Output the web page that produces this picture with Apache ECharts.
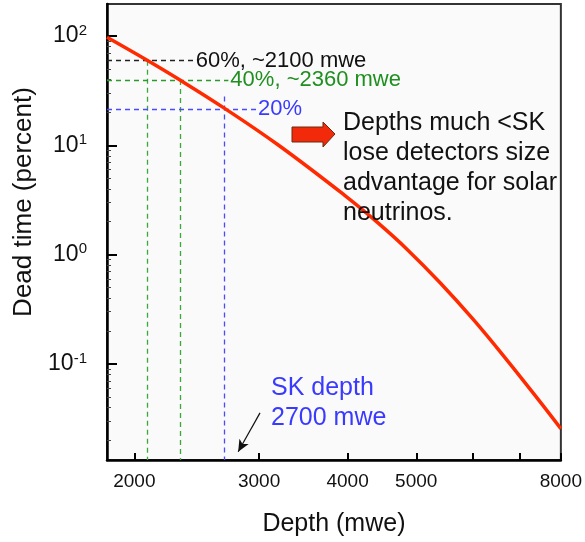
<!DOCTYPE html>
<html>
<head>
<meta charset="utf-8">
<script src="https://cdn.jsdelivr.net/npm/echarts@6/dist/echarts.min.js"></script>
<style>
html,body{margin:0;padding:0;background:#ffffff;}
#c{width:585px;height:542px;}
</style>
</head>
<body>
<div id="c"></div>
<script>
// ---- data ----
const depth   = [1830, 2085, 2320, 2679, 3193, 3958, 4407, 4855, 5403, 6017, 6701, 7460, 8000];
const deadPct = [97.3, 59.9, 39.5, 21.86, 10.05, 3.50, 1.969, 1.115, 0.553, 0.2552, 0.110, 0.0458, 0.0255];
const xTickLabels = [2000, 3000, 4000, 5000, 8000];
const xTicks      = [2000, 3000, 4000, 5000, 6000, 7000, 8000];
const yTickLabels = [0.1, 1, 10, 100];
const xRange = [1830, 8000];
const yRange = [0.0132, 196];
// reference lines: level %, crossing depth, end of horizontal dash, label
const refLevels  = [59.4, 39.6, 21.5];
const refDepths  = [2085, 2320, 2679];
const refLabels  = ['60%, ~2100 mwe', '40%, ~2360 mwe', '20%'];
const refHEnds   = [2426, 2715, 2971];
const refVTops   = [59.4, 39.6, 27.9];
const skArrow    = [[3009, 0.0356], [2803, 0.0157]];
const noteText   = 'Depths much <SK\nlose detectors size\nadvantage for solar\nneutrinos.';
const skText     = 'SK depth\n2700 mwe';

const FONT = '"Liberation Sans", Arial, Helvetica, sans-serif';
const hColors = ['#222222', '#2a9a2a', '#4a4aff'];
const vColors = ['#3aa83a', '#3aa83a', '#4a4aff'];
const tColors = ['#111111', '#1f8f1f', '#3a3aff'];

const minorY = [];
[0.01, 0.1, 1, 10].forEach(d => { for (let k = 2; k <= 9; k++) { const v = +(k * d).toPrecision(3); if (v > yRange[0] && v < yRange[1]) minorY.push(v); } });

const chart = echarts.init(document.getElementById('c'), null, {renderer: 'canvas'});

const markData = [];
refLevels.forEach((lv, i) => {
  markData.push([
    {coord: [xRange[0], lv], lineStyle: {color: hColors[i]},
     label: {show: true, position: 'end', formatter: refLabels[i], color: tColors[i], fontSize: 22, fontFamily: FONT, distance: 2}},
    {coord: [refHEnds[i], lv]}
  ]);
  markData.push([
    {coord: [refDepths[i], refVTops[i]], lineStyle: {color: vColors[i]}, label: {show: false}},
    {coord: [refDepths[i], yRange[0]]}
  ]);
});

const option = {
  backgroundColor: '#ffffff',
  animation: false,
  grid: {left: 107, top: 4, right: 20, bottom: 82, show: true, backgroundColor: '#fafafa', borderColor: '#333', borderWidth: 2},
  xAxis: {
    type: 'log', min: xRange[0], max: xRange[1], logBase: 10,
    name: 'Depth (mwe)', nameLocation: 'middle', nameGap: 52,
    nameTextStyle: {fontSize: 25, color: '#111', fontFamily: FONT},
    axisLine: {show: true, lineStyle: {color: '#000', width: 2.5}},
    axisTick: {show: true, inside: true, length: 7, lineStyle: {color: '#000', width: 2}, customValues: xTicks},
    axisLabel: {show: true, customValues: xTickLabels, formatter: v => String(Math.round(v)), fontSize: 19, color: '#111', fontFamily: FONT, margin: 12},
    splitLine: {show: false}, minorTick: {show: false}
  },
  yAxis: [{
    type: 'log', min: yRange[0], max: yRange[1], logBase: 10, position: 'left',
    name: 'Dead time (percent)', nameLocation: 'middle', nameGap: 70, nameRotate: 90,
    nameTextStyle: {fontSize: 26, color: '#111', fontFamily: FONT, padding: [0, 0, 0, 60]},
    axisLine: {show: true, lineStyle: {color: '#000', width: 2.5}},
    axisTick: {show: true, inside: true, length: 10, lineStyle: {color: '#000', width: 2}, customValues: yTickLabels},
    axisLabel: {
      show: true, customValues: yTickLabels, margin: 20, fontFamily: FONT,
      formatter: v => '{b|10}{s|' + Math.round(Math.log10(v)) + '}',
      rich: {
        b: {fontSize: 23, color: '#111', fontFamily: FONT, lineHeight: 26},
        s: {fontSize: 15, color: '#111', fontFamily: FONT, verticalAlign: 'top', lineHeight: 15}
      }
    },
    splitLine: {show: false}, minorTick: {show: false}
  }, {
    type: 'log', min: yRange[0], max: yRange[1], logBase: 10, position: 'left',
    axisLine: {show: false},
    axisTick: {show: true, inside: true, length: 4, lineStyle: {color: '#444', width: 1}, customValues: minorY},
    axisLabel: {show: false}, splitLine: {show: false}
  }],
  series: [{
    type: 'line', xAxisIndex: 0, yAxisIndex: 0,
    data: depth.map((d, i) => [d, deadPct[i]]),
    smooth: 0.4, showSymbol: false, symbol: 'none',
    lineStyle: {color: '#ff2a00', width: 3.5},
    z: 5,
    markLine: {
      silent: true, symbol: ['none', 'none'],
      lineStyle: {type: [5, 4], width: 1.3},
      data: markData.concat([[
        {coord: skArrow[0], lineStyle: {color: '#111', type: 'solid', width: 1.2}, symbol: 'none', label: {show: false}},
        {coord: skArrow[1], symbol: 'arrow', symbolSize: [8, 12]}
      ]])
    }
  }],
  graphic: [
    {type: 'polygon', shape: {points: [[292,127],[323,127],[323,122],[335,134],[323,147],[323,142],[292,142]]},
     style: {fill: '#f22a0a', stroke: '#6a2a10', lineWidth: 1}, z: 10},
    {type: 'text', left: 343, top: 108, style: {text: noteText, fontSize: 25, lineHeight: 30, fill: '#111', fontFamily: FONT}, z: 10},
    {type: 'text', left: 271, top: 373, style: {text: skText, fontSize: 25, lineHeight: 30, fill: '#3a3aff', fontFamily: FONT}, z: 10}
  ]
};
chart.setOption(option);
</script>
</body>
</html>
